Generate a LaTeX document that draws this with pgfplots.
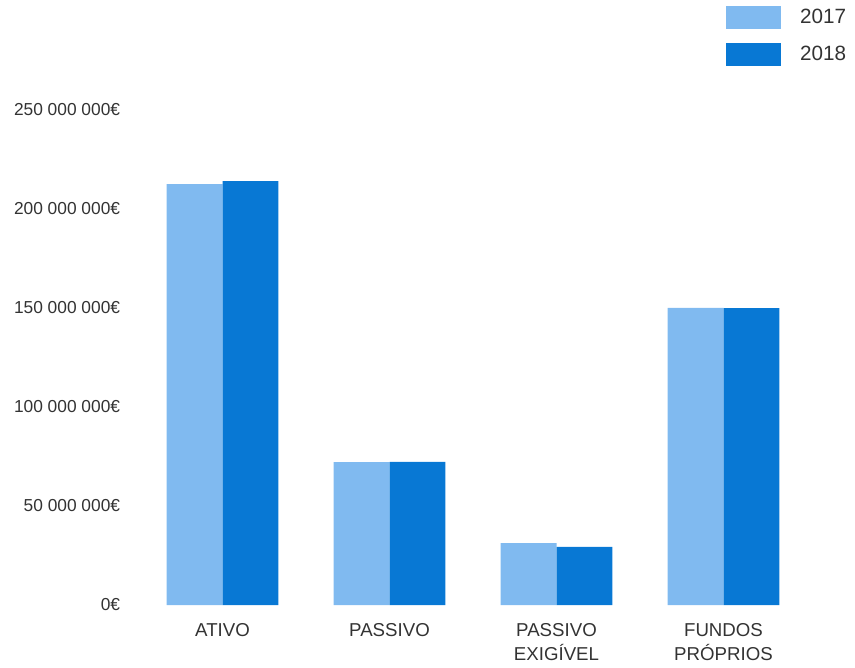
\documentclass[border=0pt]{standalone}
\usepackage{pgfplots}
\pgfplotsset{compat=1.18}
\usepackage{fontspec}
\setmainfont{Liberation Sans}
\definecolor{light}{RGB}{128,186,240}
\definecolor{dark}{RGB}{8,120,212}
\definecolor{txt}{RGB}{51,51,51}
\begin{document}
\begin{tikzpicture}
\begin{axis}[
    at={(0,0)}, anchor=south west,
    scale only axis,
    width=501pt, height=371.25pt,
    ybar=0pt, bar width=0.335,
    xmin=-0.5, xmax=3.5,
    ymin=0, ymax=250000000,
    axis lines=left,
    axis line style={draw=none},
    tick style={draw=none},
    xtick={0,1,2,3},
    xticklabels={ATIVO,PASSIVO,PASSIVO\\EXIGÍVEL,FUNDOS\\PRÓPRIOS},
    ytick={0,50000000,100000000,150000000,200000000,250000000},
    yticklabels={0€,50 000 000€,100 000 000€,150 000 000€,200 000 000€,250 000 000€},
    scaled y ticks=false,
    major tick length=0pt,
    yticklabel style={font=\fontsize{13}{17}\selectfont, text=txt, anchor=east, inner sep=0pt, xshift=-14pt},
    xticklabel style={font=\fontsize{14}{17.5}\selectfont, text=txt, align=center, anchor=north, inner sep=0pt, yshift=-14pt},
    legend image code/.code={\fill[#1,draw=none] (0pt,-8.625pt) rectangle (41.25pt,8.625pt);},
    legend style={at={(0.8787,1.2101)}, anchor=north west, draw=none, fill=none,
        inner sep=0pt, row sep=10.5pt,
        nodes={inner sep=0pt, font=\fontsize{15.5}{18}\selectfont, text=txt},
        /tikz/every odd column/.append style={column sep=14.25pt}},
    legend cell align=left,
]
\addplot[fill=light, draw=none] coordinates {(0,212600000) (1,72200000) (2,31300000) (3,150100000)};
\addplot[fill=dark, draw=none] coordinates {(0,214100000) (1,72300000) (2,29300000) (3,150000000)};
\legend{2017,2018}
\end{axis}
\pgfresetboundingbox
\path[use as bounding box] (-104.25pt,-46.5pt) rectangle (537pt,453.75pt);
\end{tikzpicture}
\end{document}
